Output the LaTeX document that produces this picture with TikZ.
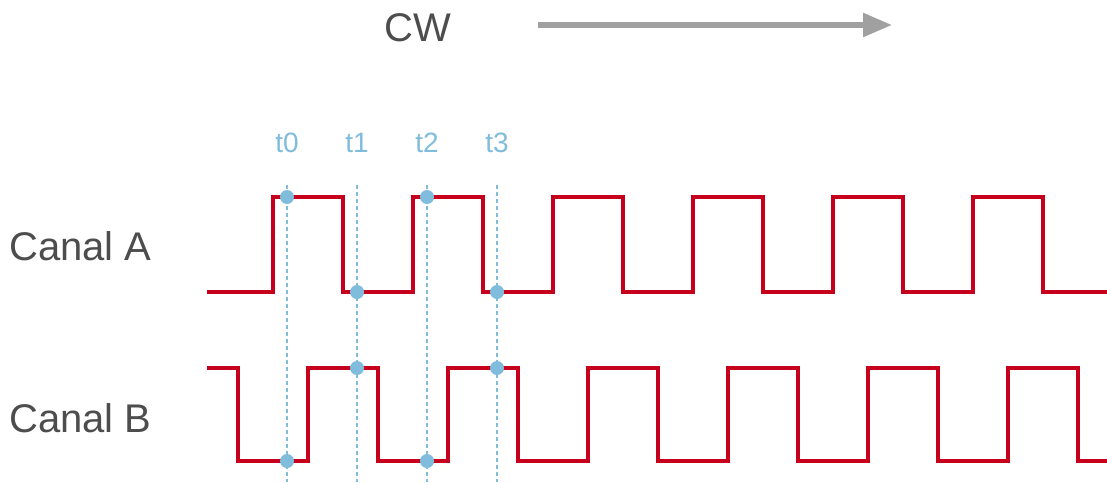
\documentclass[tikz,border=0pt]{standalone}
\usepackage{fontspec}
\setmainfont{Liberation Sans}
\usetikzlibrary{arrows.meta}
\definecolor{sigred}{RGB}{198,0,28}
\definecolor{tblue}{RGB}{128,188,220}
\definecolor{txtgray}{RGB}{77,77,77}
\definecolor{arrgray}{RGB}{160,160,160}
\tikzset{
  lbl/.style={inner sep=0pt, text=txtgray, font=\fontsize{40}{46}\selectfont, anchor=base west},
  tlbl/.style={inner sep=0pt, text=tblue, font=\fontsize{28}{32}\selectfont, anchor=base},
  tline/.style={draw=tblue, line width=2pt, dash pattern=on 4pt off 3pt},
  tdot/.style={circle, fill=tblue, inner sep=0pt, minimum size=14pt},
  sig/.style={draw=sigred, line width=4.5pt, line join=miter, line cap=butt},
  cwarrow/.style={draw=arrgray, line width=5.5pt, -{Triangle[length=29pt,width=23pt]}}
}
\begin{document}
\begin{tikzpicture}[x=1pt,y=-1pt]
\useasboundingbox (0,0) rectangle (1107,482);
% title
\node[lbl] (cw) at (384,41) {CW};
\coordinate (as) at (538,25);
\coordinate (ae) at (892,25);
\draw[cwarrow] (as) -- (ae);
% channel labels
\node[lbl] (ca) at (9,260) {Canal A};
\node[lbl] (cb) at (9,432) {Canal B};
% time labels and dashed lines
\foreach \i/\x in {0/287,1/357,2/427,3/497}{
  \node[tlbl] (t\i) at (\x,152) {t\i};
  \coordinate (t\i top) at (\x,185);
  \coordinate (t\i bot) at (\x,482);
  \draw[tline] (t\i top) -- (t\i bot);
}
% Canal A
\draw[sig] (207,292)
  -- (273,292) -- (273,197) -- (343,197) -- (343,292)
  -- (413,292) -- (413,197) -- (483,197) -- (483,292)
  -- (553,292) -- (553,197) -- (623,197) -- (623,292)
  -- (693,292) -- (693,197) -- (763,197) -- (763,292)
  -- (833,292) -- (833,197) -- (903,197) -- (903,292)
  -- (973,292) -- (973,197) -- (1043,197) -- (1043,292)
  -- (1107,292);
% Canal B
\draw[sig] (207,368)
  -- (238,368) -- (238,461) -- (308,461) -- (308,368)
  -- (378,368) -- (378,461) -- (448,461) -- (448,368)
  -- (518,368) -- (518,461) -- (588,461) -- (588,368)
  -- (658,368) -- (658,461) -- (728,461) -- (728,368)
  -- (798,368) -- (798,461) -- (868,461) -- (868,368)
  -- (938,368) -- (938,461) -- (1008,461) -- (1008,368)
  -- (1078,368) -- (1078,461) -- (1107,461);
% dots
\node[tdot] (a0) at (287,197) {};
\node[tdot] (b0) at (287,461) {};
\node[tdot] (a1) at (357,292) {};
\node[tdot] (b1) at (357,368) {};
\node[tdot] (a2) at (427,197) {};
\node[tdot] (b2) at (427,461) {};
\node[tdot] (a3) at (497,292) {};
\node[tdot] (b3) at (497,368) {};
\end{tikzpicture}
\end{document}
